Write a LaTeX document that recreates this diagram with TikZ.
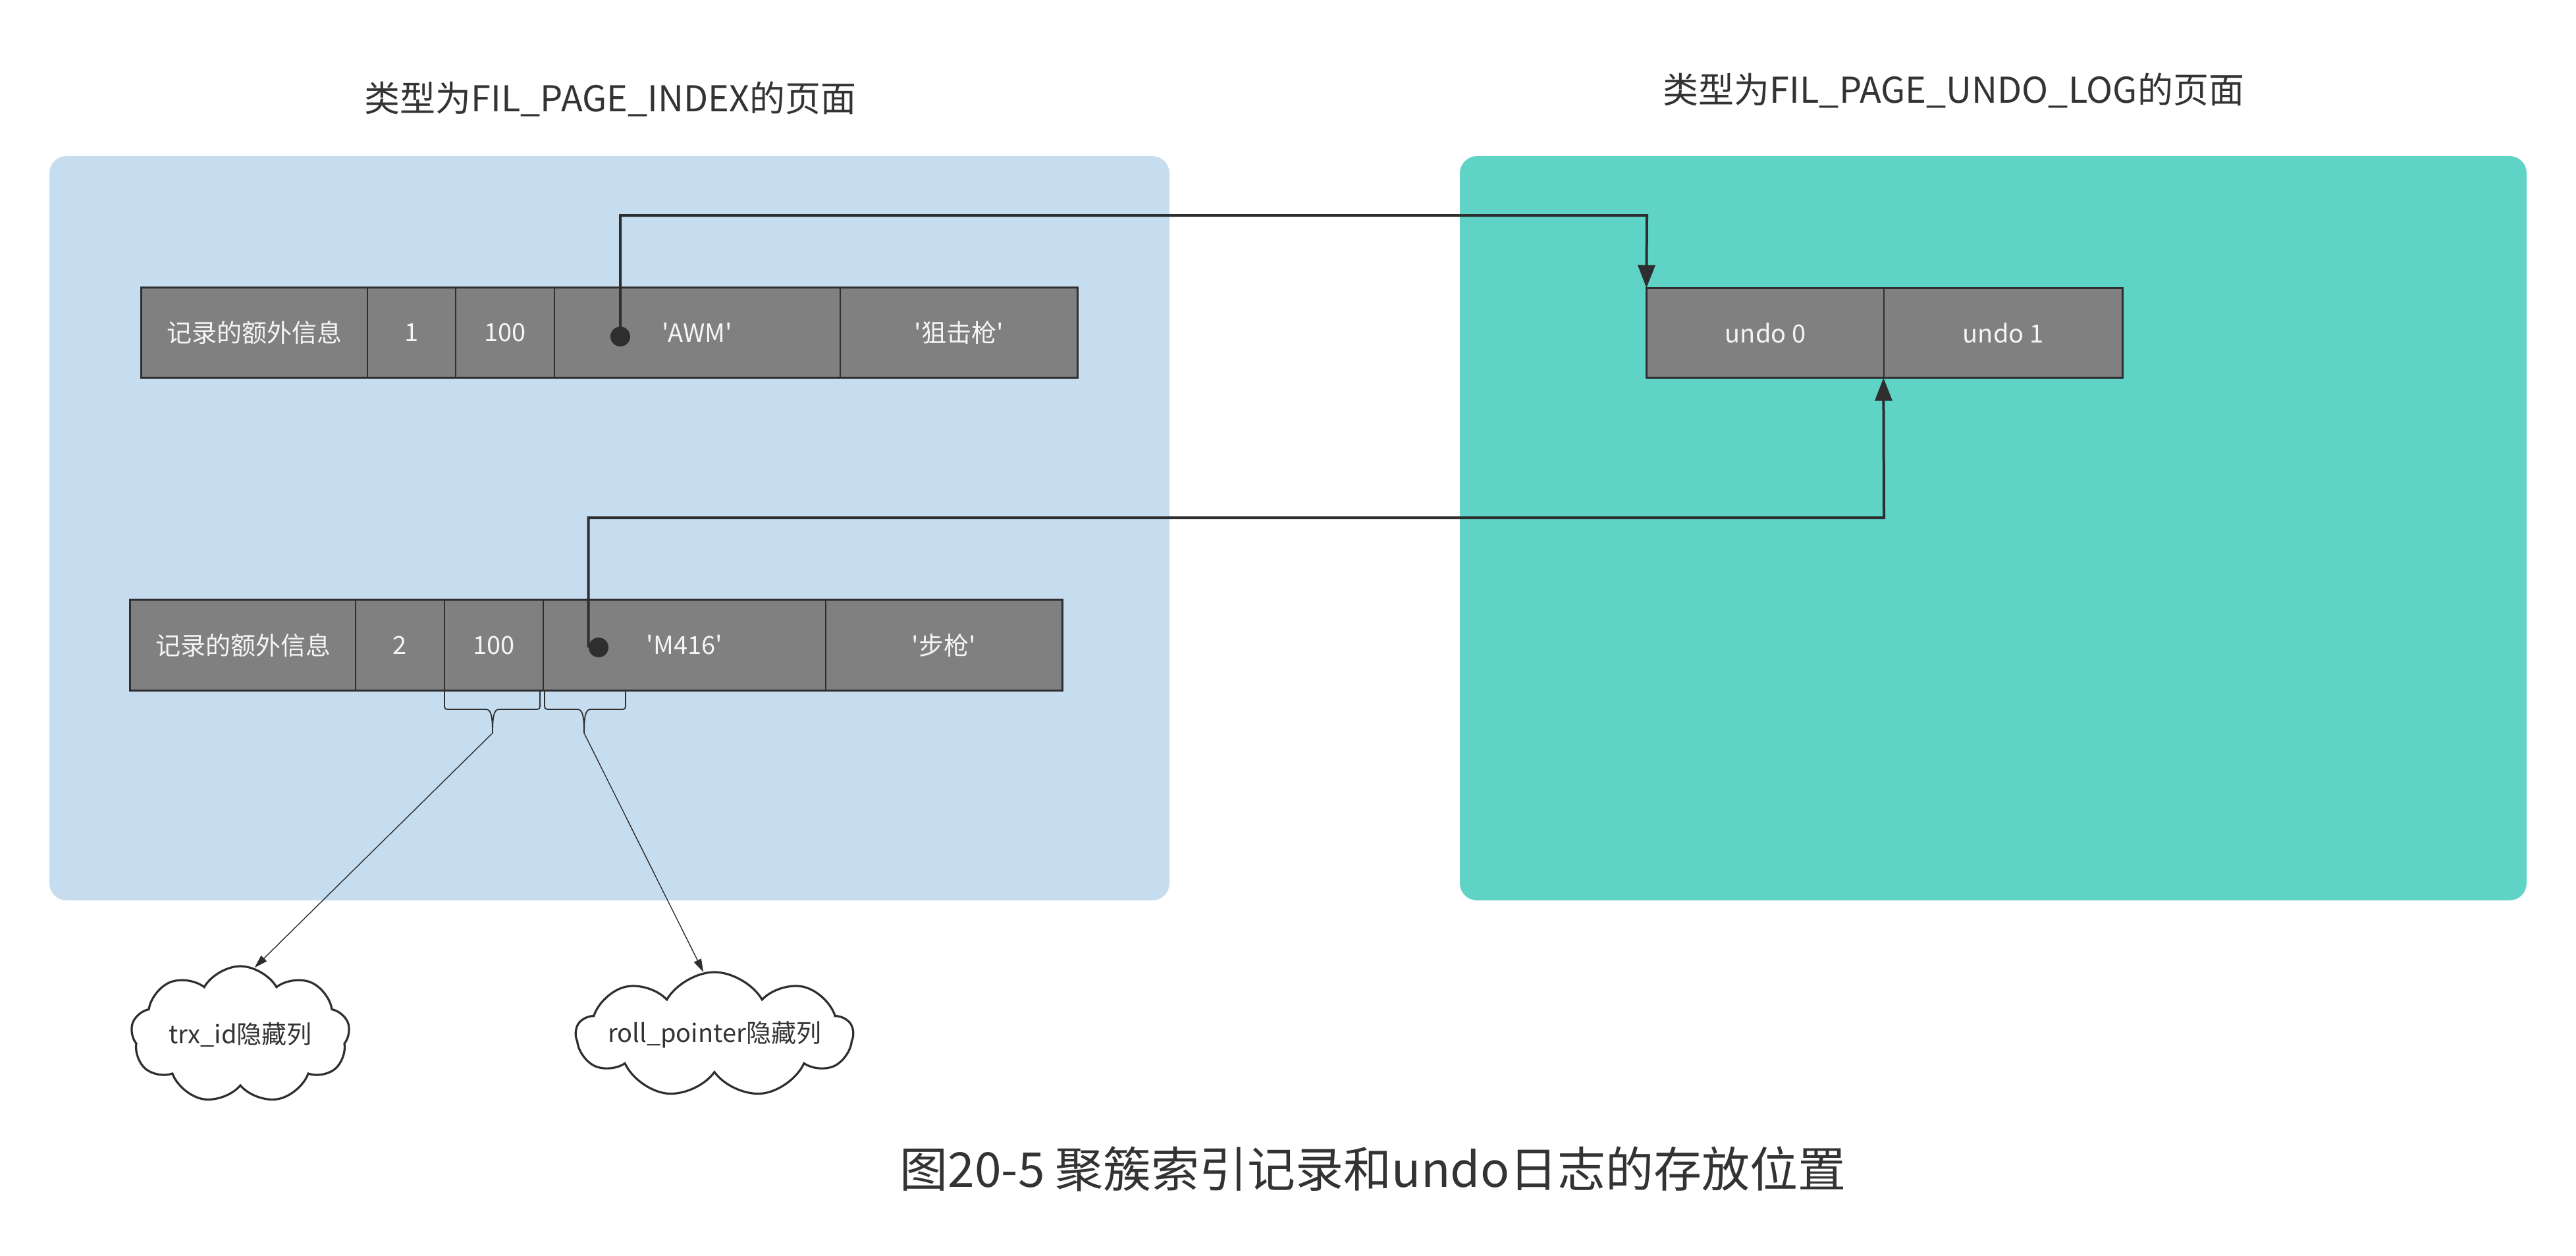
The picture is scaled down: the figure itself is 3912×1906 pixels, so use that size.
\documentclass[tikz,border=0pt]{standalone}
\usepackage{fontspec}
\setmainfont{Noto Sans CJK SC}[Ligatures=TeXOff]
\usetikzlibrary{arrows.meta,shapes.symbols}
\definecolor{panelblue}{HTML}{C6DDF0}
\definecolor{panelteal}{HTML}{5ED3C6}
\definecolor{cellgray}{HTML}{808080}
\definecolor{darkline}{HTML}{2E2E2E}
\definecolor{celltext}{HTML}{F5F5F5}
\definecolor{titletext}{HTML}{333333}
\tikzset{
  cell/.style={draw=darkline, line width=0.7pt, fill=cellgray, text=celltext,
    inner sep=0pt, font=\fontsize{19pt}{22pt}\selectfont},
  outerbox/.style={draw=darkline, line width=1.6pt},
  dotnode/.style={circle, fill=darkline, inner sep=0pt, minimum size=15pt},
  bigarrow/.style={draw=darkline, line width=2pt, -{Triangle[length=17.5pt,width=13pt]}},
  thinarrow/.style={draw=darkline, line width=0.7pt, -{Triangle[length=10pt,width=6pt]}},
  bracepath/.style={draw=darkline, line width=0.9pt},
  cloudnode/.style={cloud, cloud puffs=9, cloud puff arc=120, draw=darkline, line width=1.6pt,
    fill=white, text=titletext, inner sep=0pt, font=\fontsize{19pt}{22pt}\selectfont},
  titlenode/.style={text=titletext, inner sep=0pt, font=\fontsize{27pt}{32pt}\selectfont},
}
\begin{document}
\begin{tikzpicture}[x=0.5pt, y=-0.5pt]
\useasboundingbox (0,0) rectangle (3912,1906);
\fill[white] (0,0) rectangle (3912,1906);
% panels
\fill[panelblue, rounded corners=13pt] (75,237) rectangle (1776,1367);
\fill[panelteal, rounded corners=13pt] (2217,237) rectangle (3837,1367);
% titles
\node[titlenode] (t1) at (927,150) {类型为FIL\_PAGE\_INDEX的页面};
\node[titlenode] (t2) at (2967,137) {类型为FIL\_PAGE\_UNDO\_LOG的页面};
\node[titlenode, font=\fontsize{36.5pt}{42pt}\selectfont] (cap) at (2085,1775) {图20-5 聚簇索引记录和undo日志的存放位置};
% record 1
\node[cell, minimum width=171.5pt, minimum height=68pt] (c11) at (386.5,505) {记录的额外信息};
\node[cell, minimum width=67pt, minimum height=68pt] (c12) at (625,505) {1};
\node[cell, minimum width=75pt, minimum height=68pt] (c13) at (767,505) {100};
\node[cell, minimum width=217pt, minimum height=68pt] (c14) at (1059,505) {'AWM'};
\node[cell, minimum width=180pt, minimum height=68pt] (c15) at (1456,505) {'狙击枪'};
\draw[outerbox] (c11.north west) rectangle (c15.south east);
% record 2
\node[cell, minimum width=171pt, minimum height=68.5pt] (c21) at (369,979.5) {记录的额外信息};
\node[cell, minimum width=67.5pt, minimum height=68.5pt] (c22) at (607.5,979.5) {2};
\node[cell, minimum width=75pt, minimum height=68.5pt] (c23) at (750,979.5) {100};
\node[cell, minimum width=214.5pt, minimum height=68.5pt] (c24) at (1039.5,979.5) {'M416'};
\node[cell, minimum width=179.5pt, minimum height=68.5pt] (c25) at (1433.5,979.5) {'步枪'};
\draw[outerbox] (c21.north west) rectangle (c25.south east);
% undo records
\node[cell, minimum width=180pt, minimum height=67.5pt] (u0) at (2681,505.5) {undo 0};
\node[cell, minimum width=181pt, minimum height=67.5pt] (u1) at (3042,505.5) {undo 1};
\draw[outerbox] (u0.north west) rectangle (u1.south east);
% dots
\node[dotnode] (d1) at (942,511) {};
\node[dotnode] (d2) at (909,983) {};
% pointers
\coordinate (turn1) at (2501,327);
\coordinate (turn2) at (2861,786);
\draw[bigarrow] (d1.center) |- (turn1) -- (u0.north west);
\draw[bigarrow] (d2.west) |- (turn2) -- (u1.south west);
% braces
\draw[bracepath] (675,1050) -- (675,1068) .. controls (675,1077) .. (684,1077) -- (738,1077) .. controls (746,1077) and (748,1088) .. (748,1113);
\draw[bracepath] (820,1050) -- (820,1068) .. controls (820,1077) .. (811,1077) -- (758,1077) .. controls (750,1077) and (748,1088) .. (748,1113);
\draw[bracepath] (827,1050) -- (827,1068) .. controls (827,1077) .. (836,1077) -- (877,1077) .. controls (885,1077) and (887,1088) .. (887,1113);
\draw[bracepath] (950,1050) -- (950,1068) .. controls (950,1077) .. (941,1077) -- (897,1077) .. controls (889,1077) and (887,1088) .. (887,1113);
\coordinate (b1) at (748,1113);
\coordinate (b2) at (887,1113);
% clouds
\node[cloudnode, aspect=1.55, minimum width=166pt, minimum height=104pt] (cl1) at (365,1571) {\makebox[0pt]{trx\_id隐藏列}};
\node[cloudnode, aspect=2.2, minimum width=210pt, minimum height=95pt] (cl2) at (1085,1571) {\makebox[0pt]{roll\_pointer隐藏列}};
\draw[thinarrow] (b1) -- (cl1.78);
\draw[thinarrow] (b2) -- (cl2.100);
\end{tikzpicture}
\end{document}
